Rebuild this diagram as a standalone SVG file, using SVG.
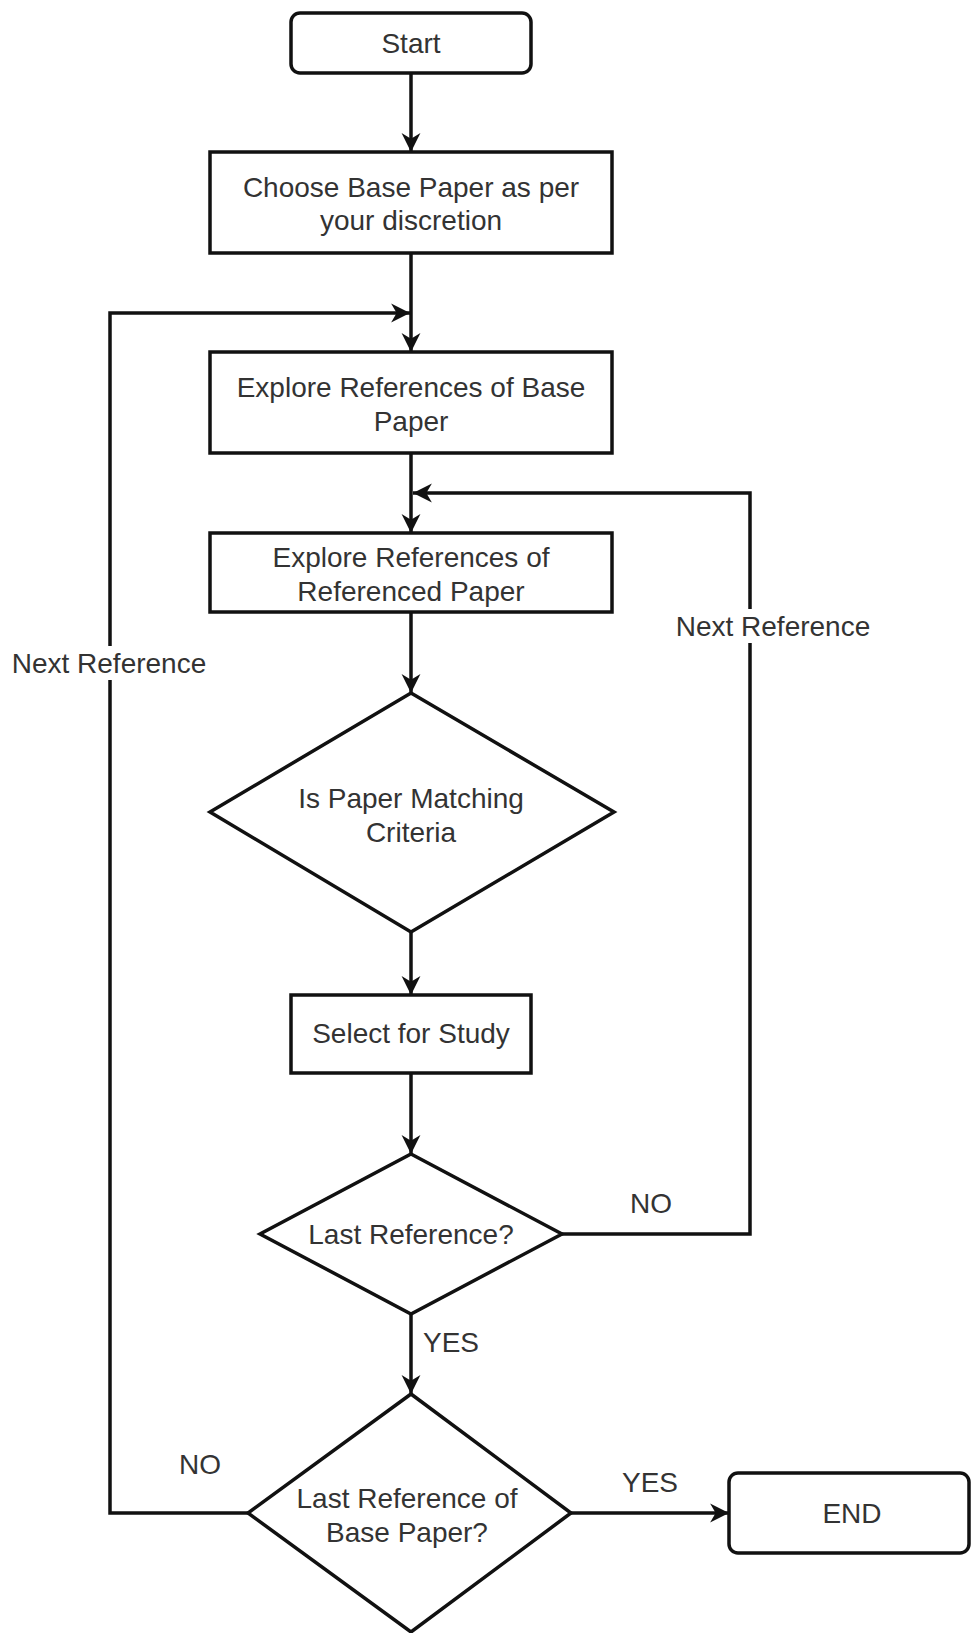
<svg xmlns="http://www.w3.org/2000/svg" width="971" height="1633" viewBox="0 0 971 1633">
<style>
.shape{fill:#ffffff;stroke:#111111;stroke-width:3.5}
.conn{fill:none;stroke:#111111;stroke-width:3.5}
.t{font-family:"Liberation Sans",Arial,sans-serif;font-size:28px;fill:#333333;text-anchor:middle;dominant-baseline:central}
.lbl{fill:#ffffff;stroke:none}
</style>
<defs>
<marker id="arr" markerUnits="userSpaceOnUse" markerWidth="20" markerHeight="20" refX="17" refY="8.5" orient="auto" viewBox="0 0 18 17">
<path d="M0,0 L17,8.5 L0,17 L5,8.5 Z" fill="#111111"/>
</marker>
</defs>
<rect width="971" height="1633" fill="#ffffff"/>
<g id="connectors">
<path class="conn" d="M411,73 V152" marker-end="url(#arr)"/>
<path class="conn" d="M411,253 V352" marker-end="url(#arr)"/>
<path class="conn" d="M248,1513 H110 V313 H410" marker-end="url(#arr)"/>
<path class="conn" d="M411,453 V533" marker-end="url(#arr)"/>
<path class="conn" d="M562,1234 H750 V493 H413" marker-end="url(#arr)"/>
<path class="conn" d="M411,612 V693" marker-end="url(#arr)"/>
<path class="conn" d="M411,932 V995" marker-end="url(#arr)"/>
<path class="conn" d="M411,1073 V1154" marker-end="url(#arr)"/>
<path class="conn" d="M411,1314 V1394" marker-end="url(#arr)"/>
<path class="conn" d="M571,1513 H729" marker-end="url(#arr)"/>
<rect class="lbl" x="10" y="646" width="200" height="34"/>
<text class="t" x="109" y="663">Next Reference</text>
<rect class="lbl" x="673" y="609" width="200" height="34"/>
<text class="t" x="773" y="626">Next Reference</text>
<text class="t" x="651" y="1203">NO</text>
<text class="t" x="451" y="1342">YES</text>
<text class="t" x="200" y="1464">NO</text>
<text class="t" x="650" y="1482">YES</text>
</g>
<g id="start">
<rect class="shape" x="291" y="13" width="240" height="60" rx="9"/>
<text class="t" x="411" y="43">Start</text>
</g>
<g id="choose">
<rect class="shape" x="210" y="152" width="402" height="101"/>
<text class="t" x="411" y="187">Choose Base Paper as per</text>
<text class="t" x="411" y="220">your discretion</text>
</g>
<g id="explore-base">
<rect class="shape" x="210" y="352" width="402" height="101"/>
<text class="t" x="411" y="387">Explore References of Base</text>
<text class="t" x="411" y="421">Paper</text>
</g>
<g id="explore-ref">
<rect class="shape" x="210" y="533" width="402" height="79"/>
<text class="t" x="411" y="557">Explore References of</text>
<text class="t" x="411" y="591">Referenced Paper</text>
</g>
<g id="matching">
<polygon class="shape" points="411,693 614,812 411,932 210,812"/>
<text class="t" x="411" y="798">Is Paper Matching</text>
<text class="t" x="411" y="832">Criteria</text>
</g>
<g id="select">
<rect class="shape" x="291" y="995" width="240" height="78"/>
<text class="t" x="411" y="1033">Select for Study</text>
</g>
<g id="last-ref">
<polygon class="shape" points="411,1154 562,1234 411,1314 260,1234"/>
<text class="t" x="411" y="1234">Last Reference?</text>
</g>
<g id="last-base">
<polygon class="shape" points="411,1394 571,1513 411,1632 248,1513"/>
<text class="t" x="407" y="1498">Last Reference of</text>
<text class="t" x="407" y="1532">Base Paper?</text>
</g>
<g id="end">
<rect class="shape" x="729" y="1473" width="240" height="80" rx="9"/>
<text class="t" x="852" y="1513">END</text>
</g>
</svg>
